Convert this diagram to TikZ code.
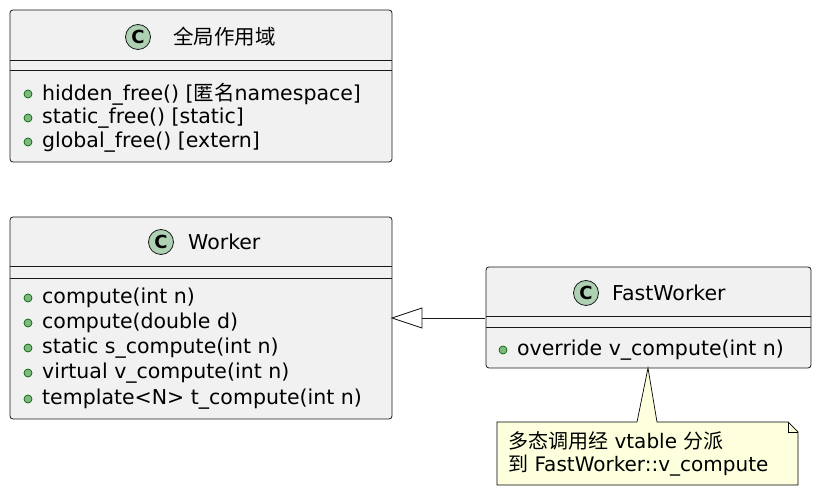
\documentclass[tikz,border=0pt]{standalone}
\usepackage{fontspec}
\setmainfont{DejaVu Sans}
\newfontfamily\cjk{Noto Sans CJK SC}
\begin{document}
\begin{tikzpicture}[x=1pt,y=-1pt,
  box/.style={draw=black!90,fill=black!5.5,rounded corners=3pt,line width=0.8pt},
  sep/.style={draw=black!90,line width=0.8pt},
  cc/.style={circle,draw=black!90,line width=0.8pt,minimum size=25pt,inner sep=0pt,font=\fontsize{18}{18}\selectfont\bfseries},
  txt/.style={anchor=west,inner sep=0pt,font=\fontsize{20.5}{22}\selectfont},
  ntxt/.style={anchor=west,inner sep=0pt,font=\fontsize{20}{22}\selectfont},
  pub/.style={circle,draw=green!40!black,fill=green!45!black!50,line width=0.7pt,minimum size=8pt,inner sep=0pt}]
\definecolor{cfill}{HTML}{ADD1B2}
\definecolor{nfill}{HTML}{FEFFDD}
\useasboundingbox (0,0) rectangle (820,494);
% Global
\draw[box] (10,10) rectangle (392,162);
\node[cc,fill=cfill] (g) at (138,37) {C};
\node[txt] (gt) at (173,37) {\cjk 全局作用域};
\draw[sep] (10,60) -- (392,60); \draw[sep] (10,70) -- (392,70);
\foreach \y/\t [count=\i] in {94/{hidden\_free() [{\cjk 匿名}namespace]},118/{static\_free() [static]},142/{global\_free() [extern]}}{
  \node[pub] (gp\i) at (28,\y) {}; \node[txt] (gm\i) at (42,\y) {\t};}
% Worker
\draw[box] (10,217) rectangle (392,419);
\node[cc,fill=cfill] (w) at (161,242) {C};
\node[txt] (wt) at (188,242) {Worker};
\node[inner sep=0pt] (wr) at (392,318) {};
\draw[sep] (10,266) -- (392,266); \draw[sep] (10,278) -- (392,278);
\foreach \y/\t [count=\i] in {298/{compute(int n)},323/{compute(double d)},348/{static s\_compute(int n)},373/{virtual v\_compute(int n)},399/{template<N> t\_compute(int n)}}{
  \node[pub] (wp\i) at (28,\y) {}; \node[txt] (wm\i) at (42,\y) {\t};}
% FastWorker
\draw[box] (486,267) rectangle (811,368);
\node[cc,fill=cfill] (f) at (586,293) {C};
\node[txt] (ft) at (612,293) {FastWorker};
\node[inner sep=0pt] (fl) at (486,318) {};
\draw[sep] (486,316) -- (811,316); \draw[sep] (486,327) -- (811,327);
\node[pub] (fp1) at (503,350) {}; \node[txt] (fm1) at (517,350) {override v\_compute(int n)};
% inheritance
\coordinate (tb) at (422,318);
\draw[sep] (fl) -- (tb);
\draw[sep,fill=white] (wr.center) -- (422,308) -- (422,328) -- cycle;
% note
\draw[line width=0.7pt,fill=nfill] (497,422) -- (637,422) -- (648,368) -- (657,422) -- (788,422) -- (798,432) -- (798,485) -- (497,485) -- cycle;
\draw[line width=0.7pt] (788,422) -- (788,432) -- (798,432);
\node[ntxt] (n1) at (508,441) {{\cjk 多态调用经} vtable {\cjk 分派}};
\node[ntxt] (n2) at (508,466) {{\cjk 到} FastWorker::v\_compute};
\end{tikzpicture}
\end{document}
